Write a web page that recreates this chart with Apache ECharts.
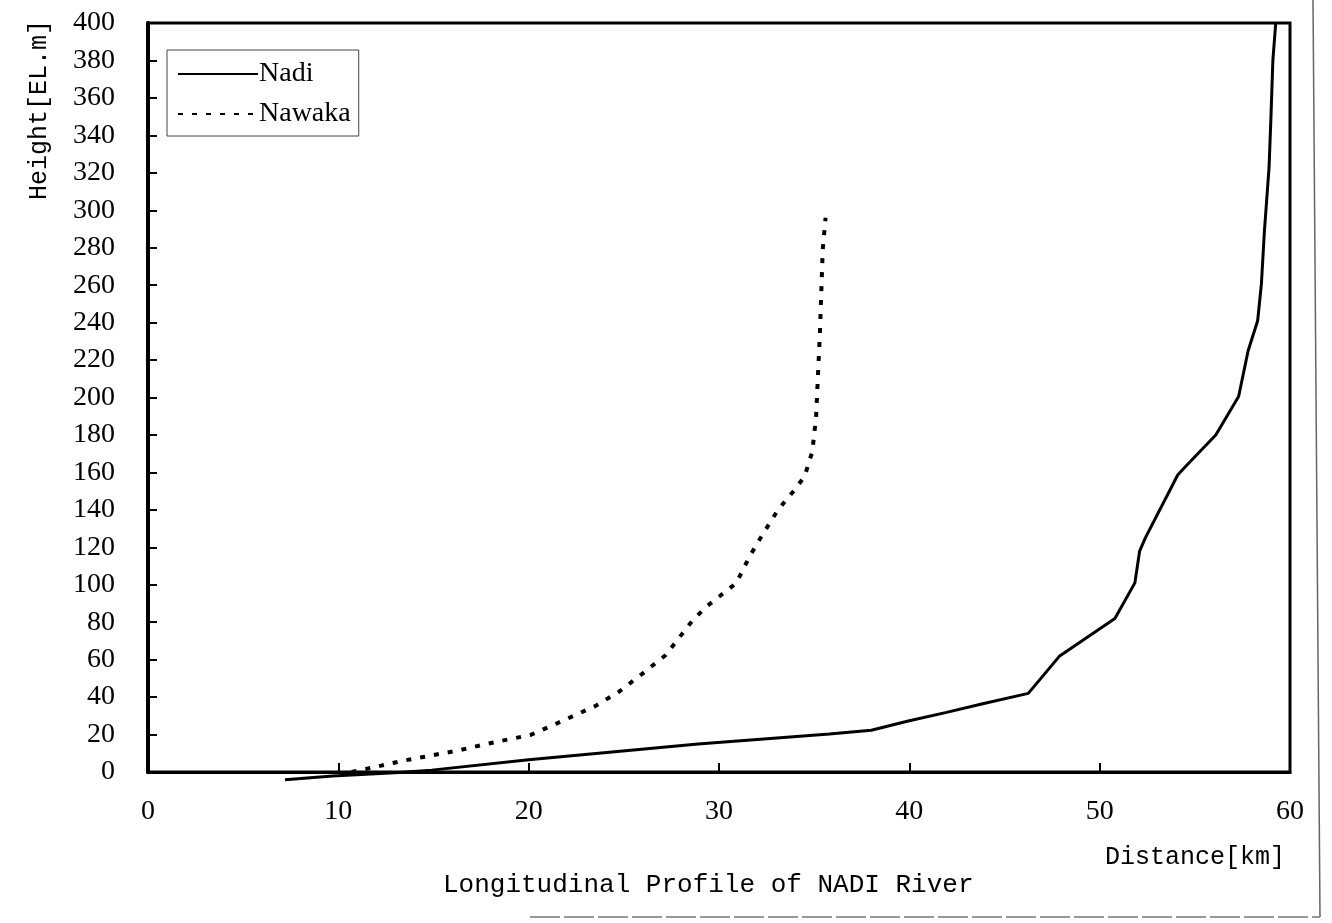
<!DOCTYPE html>
<html>
<head>
<meta charset="utf-8">
<script src="https://cdn.jsdelivr.net/npm/echarts@6/dist/echarts.min.js"></script>
<style>
html,body{margin:0;padding:0;background:#fff;}
#chart{width:1332px;height:923px;}
</style>
</head>
<body>
<div id="chart"></div>
<script>
// Data
var seriesNames = ['Nadi', 'Nawaka'];
var nadiDist   = [7.2, 9.7, 13.2, 14.9, 20.0, 28.9, 35.8, 38.0, 40.0, 41.9, 43.8, 46.25, 47.9, 50.8, 51.85, 52.1, 52.4, 54.1, 54.5, 56.1, 57.3, 57.8, 58.3, 58.5, 58.65, 58.75, 58.9, 59.0, 59.1, 59.25];
var nadiHeight = [-4.2, -2.1, -0.3, 1, 6.6, 15, 20.3, 22.3, 27.4, 31.7, 36.3, 42, 62, 82, 101, 118, 125, 158.6, 163, 180, 200.5, 225, 241, 261, 288, 302, 323, 350, 380, 400];
var nawakaDist   = [10.7, 12.0, 13.3, 16.4, 17.8, 18.5, 20.1, 21.4, 23.5, 24.75, 26.0, 27.2, 28.6, 29.3, 30.9, 31.6, 32.3, 33.1, 34.0, 34.5, 34.9, 35.1, 35.3, 35.45, 35.6];
var nawakaHeight = [0, 2.8, 5.8, 11.7, 15, 16.5, 19.8, 25.6, 35.2, 42.9, 52.7, 62.5, 80.8, 88, 100.8, 115, 127, 140, 151, 158, 171, 189.5, 234, 279, 296];
var xRange = [0, 60], xStep = 10;
var yRange = [0, 400], yStep = 20;
var titleText = 'Longitudinal Profile of NADI River';
var xName = 'Distance[km]';
var yName = 'Height[EL.m]';

function pairs(xs, ys){ return xs.map(function(x,i){ return [x, ys[i]]; }); }

var chart = echarts.init(document.getElementById('chart'), null, {renderer:'canvas'});
var serif = '"Liberation Serif", "DejaVu Serif", serif';
var mono = '"Liberation Mono", "DejaVu Sans Mono", monospace';

chart.setOption({
  backgroundColor: '#fff',
  animation: false,
  grid: {
    left: 148, right: 42, top: 23, bottom: 151,
    show: true, borderColor: '#000', borderWidth: 3, backgroundColor: 'transparent'
  },
  legend: {
    orient: 'vertical',
    left: 167, top: 50,
    itemWidth: 80, itemHeight: 14, itemGap: 12,
    padding: [10, 8, 8, 10],
    borderColor: '#444', borderWidth: 1,
    itemStyle: { opacity: 0 },
    textStyle: { fontFamily: serif, fontSize: 28, color: '#000', padding: [0,0,0,-4] },
    data: seriesNames
  },
  xAxis: {
    type: 'value', min: xRange[0], max: xRange[1], interval: xStep,
    axisLine: { show: true, lineStyle: { color: '#000', width: 3 } },
    axisTick: { show: true, inside: true, length: 9, lineStyle: { color: '#000', width: 2 } },
    axisLabel: { margin: 26, fontFamily: serif, fontSize: 28, color: '#000' },
    splitLine: { show: false }
  },
  yAxis: {
    type: 'value', min: yRange[0], max: yRange[1], interval: yStep,
    axisLine: { show: true, lineStyle: { color: '#000', width: 4 } },
    axisTick: { show: true, inside: true, length: 9, lineStyle: { color: '#000', width: 2 } },
    axisLabel: { margin: 33, fontFamily: serif, fontSize: 28, color: '#000' },
    splitLine: { show: false }
  },
  series: [
    {
      name: seriesNames[0], type: 'line', data: pairs(nadiDist, nadiHeight),
      symbol: 'none', clip: false, smooth: false,
      lineStyle: { color: '#000', width: 3, type: 'solid' },
      itemStyle: { color: '#000' }
    },
    {
      name: seriesNames[1], type: 'line', data: pairs(nawakaDist, nawakaHeight),
      symbol: 'none', clip: false, smooth: false,
      lineStyle: { color: '#000', width: 4, type: [5, 9] },
      itemStyle: { color: '#000' }
    }
  ],
  graphic: [
    { type: 'text', left: 443, top: 872, style: { text: titleText, fontFamily: mono, fontSize: 26, fill: '#000' } },
    { type: 'text', right: 47, top: 845, style: { text: xName, fontFamily: mono, fontSize: 25, fill: '#000' } },
    { type: 'text', x: 39, y: 200, rotation: Math.PI/2, style: { text: yName, fontFamily: mono, fontSize: 25, fill: '#000', align: 'left', verticalAlign: 'middle' }, originX: 0, originY: 0 },
    { type: 'line', shape: { x1: 1313, y1: 0, x2: 1320, y2: 917 }, style: { stroke: '#666', lineWidth: 1.5 } },
    { type: 'line', shape: { x1: 530, y1: 917, x2: 1320, y2: 917 }, style: { stroke: '#777', lineWidth: 1.5, lineDash: [30, 4] } }
  ]
});
</script>
</body>
</html>
